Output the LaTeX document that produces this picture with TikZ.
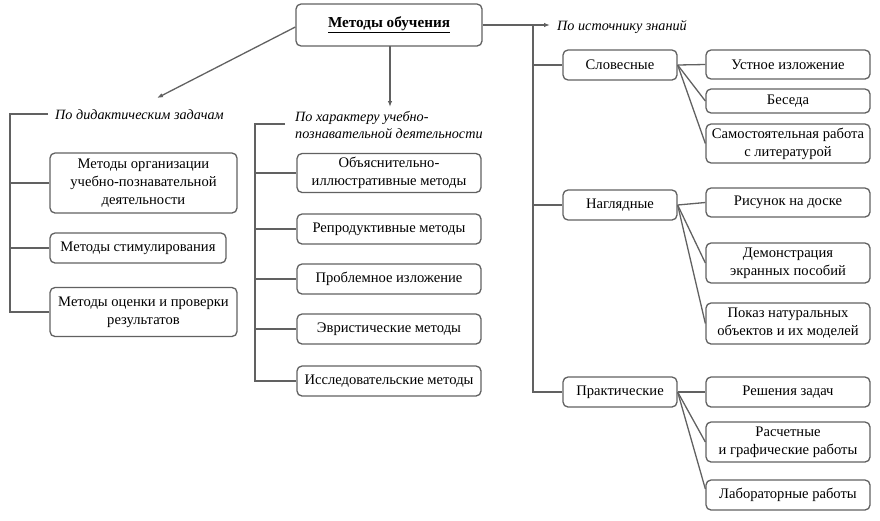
\documentclass[tikz,border=0pt]{standalone}
\usepackage{fontspec}
\setmainfont{Liberation Serif}
\usetikzlibrary{arrows.meta}
\tikzset{
  box/.style={draw=black!62, line width=1.3pt, rounded corners=5pt, fill=white,
    align=center, inner xsep=2pt, inner ysep=0pt, font=\fontsize{14.6}{18}\selectfont},
  lbl/.style={anchor=west, inner sep=0pt, align=left, font=\fontsize{14.2}{16.5}\selectfont\itshape},
  ln/.style={draw=black!62, line width=1.3pt},
  arr/.style={ln, -{Latex[length=6pt,width=4.5pt]}}
}
\begin{document}
\begin{tikzpicture}[x=1pt,y=-1pt]
\useasboundingbox (0,0) rectangle (880,520);
% top
\node[box, minimum width=186, minimum height=42, font=\fontsize{15.2}{18}\selectfont] (top) at (389,25) {\textbf{\underline{Методы обучения}}};
\coordinate (aL) at (157,98);
\coordinate (aM) at (390,107);
\coordinate (aR) at (550,25);
\draw[arr] (top.west |- 0,27) -- (aL);
\draw[arr] (390,46) -- (aM);
\draw[arr] (top.east) -- (aR);
% left column
\node[lbl] (lt) at (55,115) {По дидактическим задачам};
\node[box, minimum width=187, minimum height=60] (L1) at (143.5,183) {Методы организации\\учебно-познавательной\\деятельности};
\node[box, minimum width=176, minimum height=30] (L2) at (138,248) {Методы стимулирования};
\node[box, minimum width=187, minimum height=49] (L3) at (143.5,312) {Методы оценки и проверки\\результатов};
\coordinate (lc) at (10,114);
\draw[ln] (48,114) -- (lc) |- (L3.west);
\draw[ln] (lc |- L1.west) -- (L1.west);
\draw[ln] (lc |- L2.west) -- (L2.west);
% middle column
\node[lbl] (mt) at (295,125) {По характеру учебно-\\познавательной деятельности};
\node[box, minimum width=184, minimum height=39] (M1) at (389,173) {Объяснительно-\\иллюстративные методы};
\node[box, minimum width=184, minimum height=30] (M2) at (389,229) {Репродуктивные методы};
\node[box, minimum width=184, minimum height=30] (M3) at (389,279) {Проблемное изложение};
\node[box, minimum width=184, minimum height=30] (M4) at (389,329) {Эвристические методы};
\node[box, minimum width=184, minimum height=30] (M5) at (389,381) {Исследовательские методы};
\coordinate (mc) at (255,124);
\draw[ln] (285,124) -- (mc) |- (M5.west);
\draw[ln] (mc |- M1.west) -- (M1.west);
\draw[ln] (mc |- M2.west) -- (M2.west);
\draw[ln] (mc |- M3.west) -- (M3.west);
\draw[ln] (mc |- M4.west) -- (M4.west);
% right column
\node[lbl] (rt) at (557,27) {По источнику знаний};
\node[box, minimum width=114, minimum height=30] (R1) at (620,65) {Словесные};
\node[box, minimum width=114, minimum height=30] (R2) at (620,205) {Наглядные};
\node[box, minimum width=114, minimum height=30] (R3) at (620,392) {Практические};
\coordinate (rc) at (533,25);
\draw[ln] (rc) |- (R3.west);
\draw[ln] (rc |- R1.west) -- (R1.west);
\draw[ln] (rc |- R2.west) -- (R2.west);
\node[box, minimum width=164, minimum height=29] (S1) at (788,64.5) {Устное изложение};
\node[box, minimum width=164, minimum height=24] (S2) at (788,101) {Беседа};
\node[box, minimum width=164, minimum height=39] (S3) at (788,143.5) {Самостоятельная работа\\с литературой};
\node[box, minimum width=164, minimum height=29] (N1) at (788,202.5) {Рисунок на доске};
\node[box, minimum width=164, minimum height=40] (N2) at (788,263) {Демонстрация\\экранных пособий};
\node[box, minimum width=164, minimum height=41] (N3) at (788,323.5) {Показ натуральных\\объектов и их моделей};
\node[box, minimum width=164, minimum height=30] (P1) at (788,392) {Решения задач};
\node[box, minimum width=164, minimum height=40] (P2) at (788,442) {Расчетные\\и графические работы};
\node[box, minimum width=164, minimum height=30] (P3) at (788,495) {Лабораторные работы};
\foreach \t in {S1,S2,S3} \draw[ln] (R1.east) -- (\t.west);
\foreach \t in {N1,N2,N3} \draw[ln] (R2.east) -- (\t.west);
\foreach \t in {P1,P2} \draw[ln] (R3.east) -- (\t.west);
\draw[ln] (R3.east) -- ([yshift=6pt]P3.west);
\end{tikzpicture}
\end{document}
